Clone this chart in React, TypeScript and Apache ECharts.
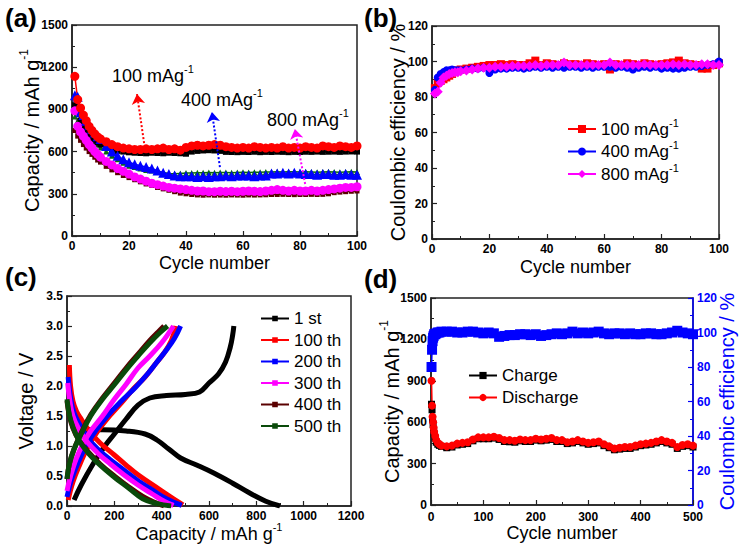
import React, { useEffect, useRef } from 'react';
import * as echarts from 'echarts';

const FONT = '"Liberation Sans", Arial, Helvetica, sans-serif';

// ---------- Panel (a): capacity vs cycle ----------
const A_CYCLES = [1, 2, 3, 4, 5, 6, 7, 8, 9, 10, 12, 14, 16, 18, 20, 22, 24, 26, 28, 30, 32, 34, 36, 38, 40, 42, 44, 46, 48, 50, 52, 54, 56, 58, 60, 62, 64, 66, 68, 70, 72, 74, 76, 78, 80, 82, 84, 86, 88, 90, 92, 94, 96, 98, 100];
const A_100_DIS = [1135, 970, 910, 860, 820, 780, 750, 725, 705, 690, 670, 650, 635, 625, 620, 615, 615, 620, 615, 620, 625, 615, 620, 610, 630, 640, 645, 640, 645, 650, 645, 635, 630, 625, 630, 625, 635, 630, 625, 630, 625, 635, 625, 630, 625, 635, 630, 625, 640, 635, 630, 640, 635, 630, 640];
const A_100_CHA = [930, 880, 820, 780, 750, 720, 700, 680, 665, 650, 630, 615, 605, 600, 595, 592, 590, 588, 592, 590, 588, 592, 590, 588, 585, 600, 605, 608, 610, 608, 605, 598, 597, 596, 598, 597, 599, 596, 598, 597, 599, 598, 596, 598, 597, 599, 598, 600, 598, 599, 600, 598, 600, 601, 600];
const A_400_DIS = [1000, 990, 880, 860, 820, 790, 760, 735, 710, 690, 640, 600, 570, 545, 525, 510, 500, 490, 480, 465, 450, 440, 430, 425, 425, 425, 420, 425, 420, 425, 425, 430, 425, 430, 430, 430, 425, 430, 430, 445, 445, 450, 445, 450, 445, 440, 440, 435, 440, 440, 435, 435, 440, 435, 435];
const A_400_CHA = [850, 820, 800, 770, 740, 715, 690, 670, 650, 630, 600, 570, 545, 520, 500, 490, 480, 470, 465, 460, 452, 445, 443, 445, 447, 448, 450, 449, 452, 450, 452, 451, 450, 452, 453, 452, 454, 453, 455, 455, 456, 455, 457, 456, 455, 456, 455, 454, 455, 456, 455, 454, 455, 456, 455];
const A_800_DIS = [890, 780, 740, 710, 680, 650, 625, 600, 580, 560, 530, 505, 480, 460, 440, 420, 405, 390, 375, 365, 355, 345, 340, 335, 330, 325, 320, 320, 315, 315, 318, 316, 318, 315, 318, 320, 318, 316, 320, 325, 330, 325, 320, 325, 320, 320, 325, 320, 325, 330, 335, 340, 345, 345, 350];
const A_800_CHA = [750, 710, 680, 650, 625, 600, 580, 560, 540, 525, 495, 470, 450, 430, 415, 400, 385, 370, 360, 345, 335, 325, 315, 305, 300, 295, 292, 290, 292, 290, 291, 290, 292, 291, 290, 292, 291, 292, 293, 295, 295, 296, 295, 294, 295, 295, 296, 295, 296, 300, 308, 312, 315, 318, 320];
// annotation arrows (tail -> head) in data coordinates
const A_ARROW_100 = [[25.3, 661], [22.8, 1009]];
const A_ARROW_400 = [[51.9, 490], [49.1, 881]];
const A_ARROW_800 = [[81.8, 370], [78.2, 761]];

// ---------- Panel (b): coulombic efficiency ----------
const B_CYCLES = A_CYCLES;
const B_100 = [85, 88, 89, 90, 91, 92, 93, 94, 95, 95.5, 96, 96.5, 97, 97.5, 98, 98, 98.5, 98, 98.5, 98, 98, 99, 100.5, 98, 99, 98.5, 98, 99, 98.5, 98.5, 98, 99, 98.5, 98, 98.5, 95.5, 98.5, 98, 99, 98.5, 98, 99, 98.5, 98, 98.5, 99, 99.5, 100.5, 99, 98.5, 98, 96, 96, 98, 99];
const B_400 = [84, 91, 93, 94, 95, 95, 95.5, 95, 95, 95, 95.5, 96, 96, 96.5, 93.5, 95.5, 96, 96, 96.5, 96.5, 96, 96.5, 97, 96.5, 97, 96.5, 97, 96.5, 97, 97, 96.5, 97, 96.5, 97, 97, 97, 96.5, 97, 96.5, 95.5, 96.5, 97, 96.5, 97, 96, 96.5, 96, 96, 96.5, 97, 97, 97.5, 98, 98.5, 100];
const B_800 = [82, 83, 88, 91, 92, 93, 93.5, 94, 94, 94.5, 95, 95.5, 96, 96.5, 96.5, 97, 97, 97, 97.5, 97.5, 97.5, 97.5, 98, 97.5, 98, 98, 98, 99.5, 98, 98, 98, 98, 98, 98, 98, 99.5, 98, 98, 98, 98, 98, 98.5, 98, 98, 98, 98, 98.5, 98, 98.5, 98, 98, 98.5, 98.5, 98, 98];

// ---------- Panel (c): voltage profiles [capacity, voltage] ----------
const C_1_CHA = [[30, 0.1], [60, 0.35], [110, 0.7], [160, 1.0], [200, 1.2], [250, 1.45], [300, 1.68], [350, 1.8], [420, 1.84], [500, 1.86], [560, 1.9], [600, 2.05], [640, 2.2], [670, 2.4], [690, 2.65], [700, 2.85], [705, 3.0]];
const C_1_DIS = [[70, 1.27], [150, 1.27], [250, 1.25], [330, 1.2], [380, 1.1], [430, 0.95], [480, 0.8], [550, 0.68], [620, 0.55], [700, 0.38], [770, 0.22], [840, 0.08], [900, 0.0]];
const C_100_CHA = [[5, 0.1], [25, 0.4], [55, 0.7], [90, 1.0], [130, 1.25], [180, 1.5], [230, 1.72], [280, 1.95], [330, 2.15], [370, 2.35], [410, 2.55], [440, 2.75], [460, 3.0]];
const C_100_DIS = [[10, 2.35], [15, 2.0], [25, 1.75], [40, 1.58], [60, 1.45], [100, 1.22], [140, 1.05], [200, 0.85], [253, 0.67], [300, 0.52], [393, 0.27], [450, 0.12], [490, 0.02]];
const C_200_CHA = [[0, 0.15], [20, 0.45], [50, 0.75], [80, 1.0], [120, 1.25], [170, 1.5], [230, 1.75], [290, 1.98], [340, 2.2], [380, 2.4], [420, 2.6], [455, 2.8], [480, 3.0]];
const C_200_DIS = [[5, 2.15], [15, 1.8], [30, 1.55], [55, 1.35], [90, 1.12], [130, 0.95], [180, 0.78], [240, 0.6], [300, 0.42], [360, 0.27], [420, 0.12], [485, 0.01]];
const C_300_CHA = [[0, 0.25], [15, 0.5], [40, 0.8], [70, 1.05], [100, 1.25], [150, 1.5], [200, 1.78], [250, 2.03], [300, 2.3], [350, 2.5], [400, 2.72], [450, 3.0]];
const C_300_DIS = [[3, 2.05], [12, 1.75], [25, 1.5], [50, 1.28], [85, 1.07], [130, 0.88], [180, 0.71], [240, 0.52], [300, 0.35], [360, 0.2], [410, 0.08], [450, 0.01]];
const C_400_CHA = [[0, 0.45], [10, 0.7], [30, 0.95], [60, 1.22], [100, 1.52], [150, 1.8], [200, 2.05], [250, 2.3], [300, 2.53], [350, 2.76], [385, 2.9], [410, 3.0]];
const C_400_DIS = [[0, 1.75], [10, 1.5], [25, 1.3], [50, 1.1], [90, 0.9], [140, 0.7], [200, 0.5], [260, 0.32], [320, 0.16], [370, 0.06], [410, 0.0]];
const C_500_CHA = [[0, 0.45], [10, 0.7], [30, 0.95], [60, 1.2], [100, 1.5], [150, 1.78], [200, 2.02], [250, 2.27], [300, 2.5], [350, 2.72], [390, 2.88], [425, 3.0]];
const C_500_DIS = [[0, 1.78], [10, 1.52], [25, 1.32], [50, 1.1], [90, 0.88], [140, 0.68], [200, 0.48], [260, 0.3], [320, 0.12], [380, 0.04], [440, 0.0]];
const C_NAMES = ['1 st', '100 th', '200 th', '300 th', '400 th', '500 th'];
const C_COLORS = ['#000000', '#ff0000', '#0000ff', '#ff00ff', '#5a0000', '#0a4a0a'];

// ---------- Panel (d): long cycling ----------
const D_CYCLES = [1, 2, 3, 4, 5, 6, 8, 10, 13, 16, 20, 30, 40, 50, 60, 70, 80, 90, 100, 110, 120, 130, 140, 150, 160, 170, 180, 190, 200, 210, 220, 230, 240, 250, 260, 270, 280, 290, 300, 310, 320, 330, 340, 350, 360, 370, 380, 390, 400, 410, 420, 430, 440, 450, 460, 470, 480, 490, 500];
const D_DIS = [900, 720, 640, 600, 560, 530, 500, 470, 450, 440, 430, 425, 430, 445, 450, 455, 475, 490, 490, 490, 495, 485, 470, 470, 465, 475, 470, 470, 480, 475, 480, 485, 470, 470, 455, 460, 470, 460, 450, 455, 460, 440, 425, 410, 415, 420, 420, 430, 440, 445, 450, 460, 470, 460, 450, 420, 435, 440, 430];
const D_CHA = [730, 690, 620, 585, 545, 515, 485, 455, 440, 432, 425, 415, 420, 435, 440, 445, 465, 480, 480, 480, 485, 475, 460, 458, 455, 465, 460, 460, 470, 465, 470, 475, 460, 460, 445, 450, 460, 450, 440, 445, 450, 430, 415, 400, 405, 410, 410, 420, 430, 435, 440, 450, 460, 450, 440, 410, 425, 430, 420];
const D_CE = [80, 90, 95, 97, 98, 99, 99, 99.5, 100, 100, 100.5, 100.5, 100.5, 100, 100, 100.5, 100.5, 100, 99.5, 100, 99.5, 97.5, 98, 98.5, 98.5, 99, 99, 98.5, 99, 98, 98.5, 99, 99.5, 99, 99.5, 100.5, 99.5, 100, 99.5, 100, 100.5, 99.5, 99, 99.5, 99.5, 99, 99.5, 99, 99, 99.5, 99.5, 99, 99, 99.5, 100, 101, 100, 99.5, 99];

const zip = (xs: number[], ys: number[]) => xs.map((x, i) => [x, ys[i]]);

const axisBase = (gridIndex: number, min: number, max: number, interval: number) => ({
  gridIndex,
  type: 'value',
  min,
  max,
  interval,
  axisLine: { show: true, onZero: false, lineStyle: { color: '#222', width: 1.5 } },
  axisTick: { show: true, inside: true, length: 5, lineStyle: { color: '#222', width: 1.2 } },
  minorTick: { show: true, splitNumber: 2, length: 3, lineStyle: { color: '#222', width: 1 } },
  splitLine: { show: false },
  minorSplitLine: { show: false },
  axisLabel: {
    color: '#000', fontSize: 12, lineHeight: 12, fontWeight: 'bold', fontFamily: FONT, margin: 4,
    formatter: (v: number) => String(v),
  },
  nameLocation: 'middle',
  nameMoveOverlap: false,
  nameTextStyle: { color: '#000', fontSize: 18, fontFamily: FONT },
});

const supRich = (color: string, size: number) => ({
  n: { fontSize: size, lineHeight: Math.round(size * 1.4), color, fontFamily: FONT },
  s: {
    fontSize: Math.round(size * 0.62), lineHeight: Math.round(size * 0.62),
    color, fontFamily: FONT, verticalAlign: 'top',
  },
});

const gridBox = (left: number, top: number, width: number, height: number) => ({
  left, top, width, height, show: true, borderColor: '#222', borderWidth: 1.5, backgroundColor: 'transparent',
});

const arrowLine = (pts: number[][], color: string) => ({
  silent: true,
  symbol: ['none', 'arrow'],
  symbolSize: 10,
  label: { show: false },
  lineStyle: { color, type: 'dotted', width: 2 },
  data: [[{ coord: pts[0] }, { coord: pts[1] }]],
});

const ptLine = (name: string, xi: number, yi: number, data: any, color: string, symbol: string, size: number, extra: any = {}) => ({
  name,
  type: 'line',
  xAxisIndex: xi,
  yAxisIndex: yi,
  data,
  symbol,
  symbolSize: size,
  showSymbol: true,
  lineStyle: { color, width: 1.5 },
  itemStyle: { color },
  ...extra,
});

export default function App() {
  const ref = useRef<HTMLDivElement>(null);
  useEffect(() => {
    if (!ref.current) return;
    const chart = echarts.init(ref.current, undefined, { renderer: 'svg' });

    const cSeries: any[] = [];
    const cPairs = [
      [C_1_CHA, C_1_DIS], [C_100_CHA, C_100_DIS], [C_200_CHA, C_200_DIS],
      [C_300_CHA, C_300_DIS], [C_400_CHA, C_400_DIS], [C_500_CHA, C_500_DIS],
    ];
    cPairs.forEach((pair, k) => {
      pair.forEach((d) => {
        cSeries.push({
          name: C_NAMES[k],
          type: 'line',
          xAxisIndex: 2,
          yAxisIndex: 2,
          data: d,
          smooth: 0.4,
          symbol: 'rect',
          symbolSize: 6,
          showSymbol: false,
          lineStyle: { color: C_COLORS[k], width: 5 },
          itemStyle: { color: C_COLORS[k] },
        });
      });
    });

    const vName = { color: '#000', fontSize: 20, fontFamily: FONT };

    const option: any = {
      animation: false,
      backgroundColor: '#ffffff',
      textStyle: { fontFamily: FONT },
      grid: [
        gridBox(72, 25, 285, 211),
        gridBox(432, 26, 287, 213),
        gridBox(67, 296, 284, 210),
        gridBox(431, 298, 262, 207),
      ],
      xAxis: [
        { ...axisBase(0, 0, 100, 20), name: 'Cycle number', nameGap: 18 },
        { ...axisBase(1, 0, 100, 20), name: 'Cycle number', nameGap: 19 },
        {
          ...axisBase(2, 0, 1200, 200),
          name: '{n|Capacity / mAh g}{s|-1}',
          nameGap: 15,
          nameTextStyle: { rich: supRich('#000', 18) },
        },
        { ...axisBase(3, 0, 500, 100), name: 'Cycle number', nameGap: 19, axisLabel: { ...axisBase(3, 0, 500, 100).axisLabel, margin: 6 } },
      ],
      yAxis: [
        {
          ...axisBase(0, 0, 1500, 300),
          name: '{n|Capacity / mAh g}{s|-1}',
          nameGap: 26,
          nameTextStyle: { rich: supRich('#000', 20) },
        },
        { ...axisBase(1, 0, 120, 20), name: 'Coulombic efficiency / %', nameGap: 24, nameTextStyle: vName },
        {
          ...axisBase(2, 0, 3.5, 0.5),
          name: 'Voltage / V',
          nameGap: 31,
          nameTextStyle: vName,
          axisLabel: { ...axisBase(2, 0, 3.5, 0.5).axisLabel, formatter: (v: number) => v.toFixed(1) },
        },
        {
          ...axisBase(3, 0, 1500, 300),
          name: '{n|Capacity / mAh g}{s|-1}',
          nameGap: 25,
          nameTextStyle: { rich: supRich('#000', 20) },
        },
        {
          ...axisBase(3, 0, 120, 20),
          position: 'right',
          name: 'Coulombic efficiency / %',
          nameGap: 24,
          axisLine: { show: true, onZero: false, lineStyle: { color: '#0000ff', width: 1.5 } },
          axisTick: { show: true, inside: true, length: 5, lineStyle: { color: '#0000ff', width: 1.2 } },
          minorTick: { show: true, splitNumber: 2, length: 3, lineStyle: { color: '#0000ff', width: 1 } },
          axisLabel: { color: '#0000ff', fontSize: 12, lineHeight: 11, fontWeight: 'bold', fontFamily: FONT, margin: 4, formatter: (v: number) => String(v) },
          nameTextStyle: { color: '#0000ff', fontSize: 20, fontFamily: FONT },
        },
      ],
      legend: [
        {
          data: ['100 mAg', '400 mAg', '800 mAg'],
          orient: 'vertical',
          left: 562,
          top: 112,
          itemWidth: 28,
          itemHeight: 10,
          itemGap: 2,
          selectedMode: false,
          formatter: (name: string) => `{n|${name}}{s|-1}`,
          textStyle: { rich: supRich('#000', 17) },
        },
        {
          data: C_NAMES,
          orient: 'vertical',
          left: 255,
          top: 305,
          itemWidth: 28,
          itemHeight: 7,
          itemGap: 4.5,
          selectedMode: false,
          lineStyle: { width: 2 },
          textStyle: { color: '#000', fontSize: 17, fontFamily: FONT },
        },
        {
          data: ['Charge', 'Discharge'],
          orient: 'vertical',
          left: 463,
          top: 362,
          itemWidth: 28,
          itemHeight: 9,
          itemGap: 5,
          selectedMode: false,
          textStyle: { color: '#000', fontSize: 17, fontFamily: FONT },
        },
      ],
      graphic: [
        { type: 'text', left: 5, top: 5, style: { text: '(a)', font: `bold 26px ${FONT}`, fill: '#000' } },
        { type: 'text', left: 364, top: 5, style: { text: '(b)', font: `bold 26px ${FONT}`, fill: '#000' } },
        { type: 'text', left: 5, top: 264, style: { text: '(c)', font: `bold 26px ${FONT}`, fill: '#000' } },
        { type: 'text', left: 364, top: 266, style: { text: '(d)', font: `bold 26px ${FONT}`, fill: '#000' } },
        { type: 'text', left: 112, top: 63, style: { text: '{n|100 mAg}{s|-1}', rich: supRich('#000', 18) } },
        { type: 'text', left: 181, top: 87, style: { text: '{n|400 mAg}{s|-1}', rich: supRich('#000', 18) } },
        { type: 'text', left: 267, top: 107, style: { text: '{n|800 mAg}{s|-1}', rich: supRich('#000', 18) } },
      ],
      series: [
        // (a)
        ptLine('a800c', 0, 0, zip(A_CYCLES, A_800_CHA), '#5a0000', 'rect', 5),
        ptLine('a400c', 0, 0, zip(A_CYCLES, A_400_CHA), '#0a6a0a', 'triangle', 6),
        ptLine('a100c', 0, 0, zip(A_CYCLES, A_100_CHA), '#000000', 'rect', 6),
        ptLine('a800d', 0, 0, zip(A_CYCLES, A_800_DIS), '#ff00ff', 'circle', 9, { markLine: arrowLine(A_ARROW_800, '#ff00ff') }),
        ptLine('a400d', 0, 0, zip(A_CYCLES, A_400_DIS), '#0000ff', 'triangle', 10, { markLine: arrowLine(A_ARROW_400, '#0000ff') }),
        ptLine('a100d', 0, 0, zip(A_CYCLES, A_100_DIS), '#ff0000', 'circle', 9, { markLine: arrowLine(A_ARROW_100, '#ff0000') }),
        // (b)
        ptLine('100 mAg', 1, 1, zip(B_CYCLES, B_100), '#ff0000', 'rect', 8),
        ptLine('400 mAg', 1, 1, zip(B_CYCLES, B_400), '#0000ff', 'circle', 8),
        ptLine('800 mAg', 1, 1, zip(B_CYCLES, B_800), '#ff00ff', 'diamond', 10),
        // (c)
        ...cSeries,
        // (d)
        ptLine('Charge', 3, 3, zip(D_CYCLES, D_CHA), '#000000', 'rect', 7),
        ptLine('Discharge', 3, 3, zip(D_CYCLES, D_DIS), '#ff0000', 'circle', 8),
        ptLine('CE', 3, 4, zip(D_CYCLES, D_CE), '#0000ff', 'rect', 10),
      ],
    };
    chart.setOption(option);
    return () => chart.dispose();
  }, []);
  return (
    <div
      ref={ref}
      style={{ position: 'absolute', left: 0, top: 0, width: 743, height: 550, background: '#fff' }}
    />
  );
}
